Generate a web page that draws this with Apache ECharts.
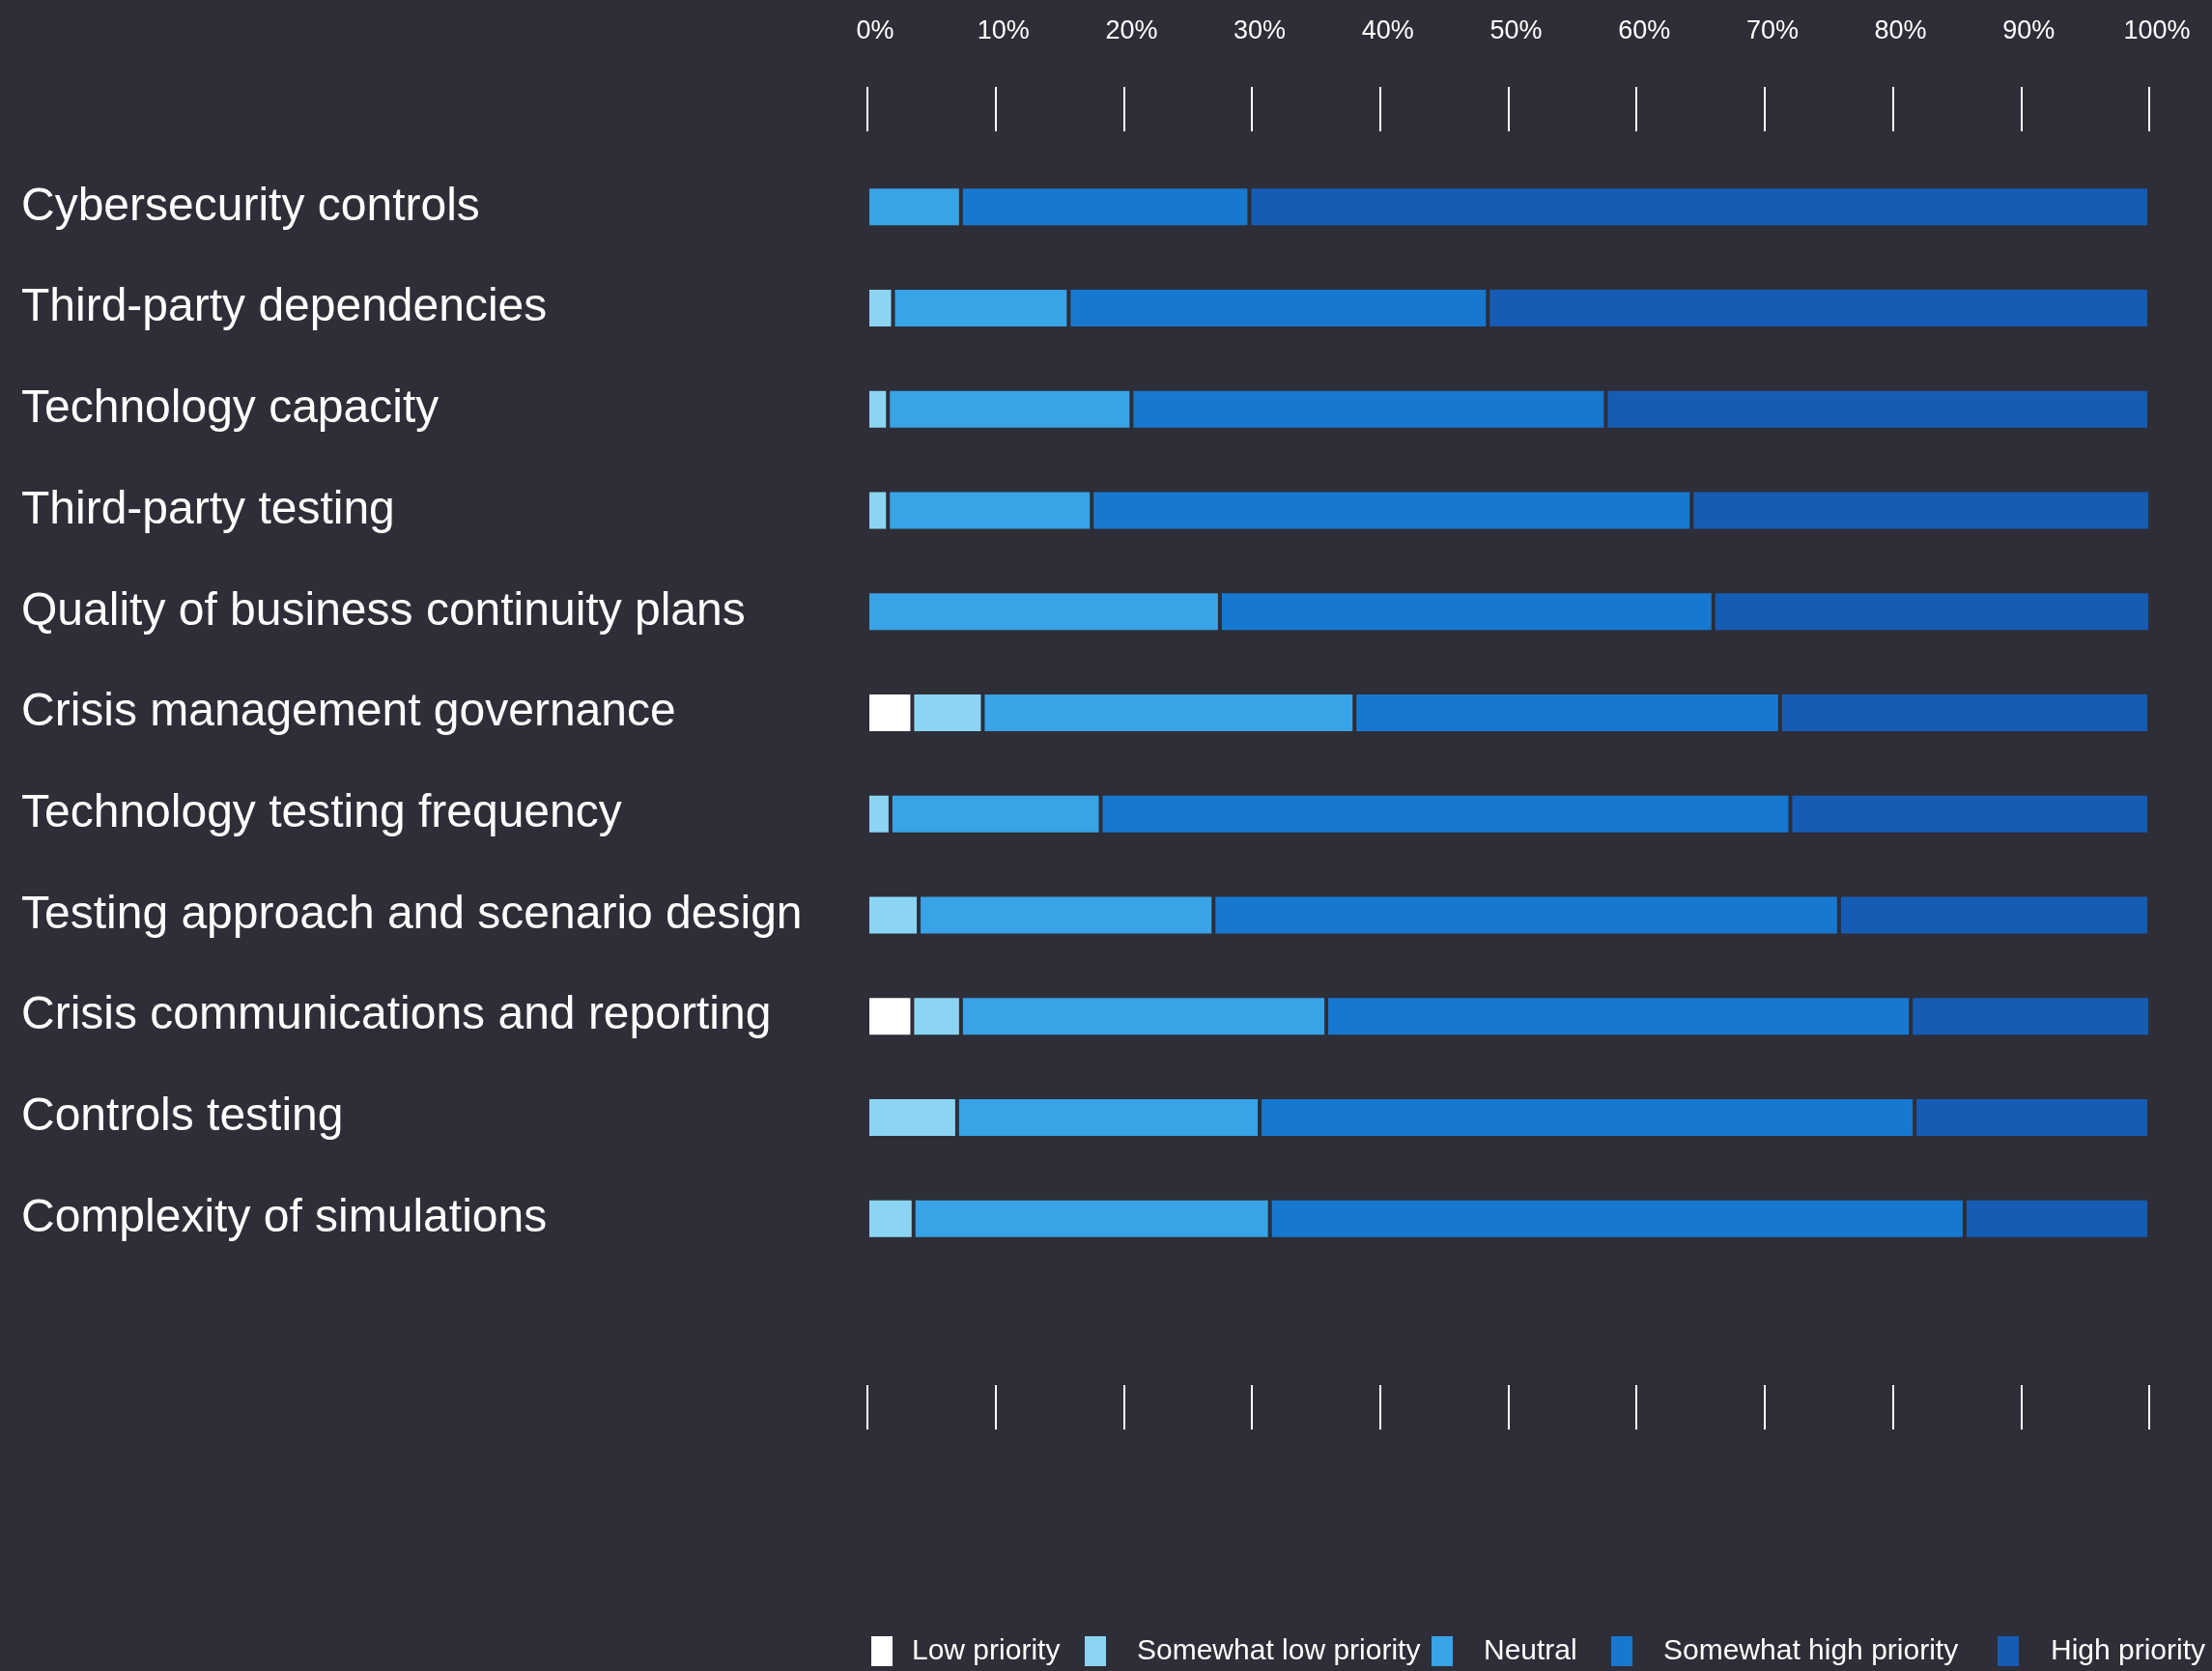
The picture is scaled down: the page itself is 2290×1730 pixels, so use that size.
<!DOCTYPE html>
<html>
<head>
<meta charset="utf-8">
<script src="https://cdn.jsdelivr.net/npm/echarts@6/dist/echarts.min.js"></script>
<style>
  html, body { margin: 0; padding: 0; background: #2e2e38; }
  #chart { width: 2290px; height: 1730px; }
</style>
</head>
<body>
<div id="chart"></div>
<script>
const categories = [
  'Cybersecurity controls',
  'Third-party dependencies',
  'Technology capacity',
  'Third-party testing',
  'Quality of business continuity plans',
  'Crisis management governance',
  'Technology testing frequency',
  'Testing approach and scenario design',
  'Crisis communications and reporting',
  'Controls testing',
  'Complexity of simulations',
]

const seriesNames = ['Low priority', 'Somewhat low priority', 'Neutral', 'Somewhat high priority', 'High priority']

// share of respondents (%) per category, top to bottom
const lowPriority =          [0,   0,   0,   0,    0,    3.5, 0,    0,  3.5,  0,  0]
const somewhatLowPriority =  [0,   2,   1.6, 1.6,  0,    5.5, 1.8,  4,  3.8,  7,  3.6]
const neutral =              [7.3, 13.7, 19, 15.9, 27.5, 29,  16.4, 23, 28.5, 23.6, 27.8]
const somewhatHighPriority = [22.5, 32.7, 37, 46.8, 38.5, 33.2, 53.8, 48.8, 45.6, 51.1, 54.2]
const highPriority =         [70.2, 51.6, 42.4, 35.9, 34.1, 28.8, 28, 24.2, 18.7, 18.3, 14.4]

const tickValues = [0, 10, 20, 30, 40, 50, 60, 70, 80, 90, 100]

const colors = ['#ffffff', '#8bd5f3', '#38a3e6', '#1778cf', '#155cb5']
const bg = '#2e2e38'
const font = '"Liberation Sans", Arial, sans-serif'

const chart = echarts.init(document.getElementById('chart'))

const gridTop = 162
const gridBottomY = 1314

const legendLefts = [900, 1121, 1480, 1666, 2066]
const legendGaps = [14, 26, 26, 26, 27]

chart.setOption({
  backgroundColor: bg,
  animation: false,
  color: colors,
  textStyle: { fontFamily: font },
  grid: { left: 898, right: 65, top: gridTop, bottom: 1730 - gridBottomY },
  legend: seriesNames.map((name, i) => ({
    data: [name],
    left: legendLefts[i],
    top: 1692,
    padding: 0,
    icon: 'rect',
    itemWidth: 24,
    itemHeight: 33,
    selectedMode: false,
    textStyle: { color: '#ffffff', fontSize: 30, fontFamily: font, padding: [0, 0, 0, legendGaps[i]] },
  })),
  xAxis: [
    {
      type: 'value',
      position: 'top',
      min: tickValues[0],
      max: tickValues[tickValues.length - 1],
      interval: 10,
      offset: gridTop - 136,
      axisLine: { show: false },
      splitLine: { show: false },
      axisTick: { show: true, length: 46, lineStyle: { color: '#ffffff', width: 2 } },
      axisLabel: {
        color: '#ffffff', fontSize: 27, fontFamily: font,
        margin: 90, formatter: '{value}%', padding: [0, 0, 0, 16],
      },
    },
    {
      type: 'value',
      position: 'bottom',
      min: tickValues[0],
      max: tickValues[tickValues.length - 1],
      interval: 10,
      offset: 1434 - gridBottomY,
      axisLine: { show: false },
      splitLine: { show: false },
      axisTick: { show: true, length: 46, lineStyle: { color: '#ffffff', width: 2 } },
      axisLabel: { show: false },
    },
  ],
  yAxis: {
    type: 'category',
    inverse: true,
    data: categories,
    axisLine: { show: false },
    axisTick: { show: false },
    splitLine: { show: false },
    axisLabel: {
      color: '#ffffff', fontSize: 48, fontFamily: font,
      align: 'left', margin: 898 - 22, padding: [10, 0, 0, 0],
    },
  },
  series: [lowPriority, somewhatLowPriority, neutral, somewhatHighPriority, highPriority].map((data, i) => ({
    name: seriesNames[i],
    type: 'bar',
    stack: 'total',
    xAxisIndex: 0,
    barWidth: 42,
    data,
    itemStyle: { color: colors[i], borderColor: bg, borderWidth: 2 },
  })),
})
</script>
</body>
</html>
